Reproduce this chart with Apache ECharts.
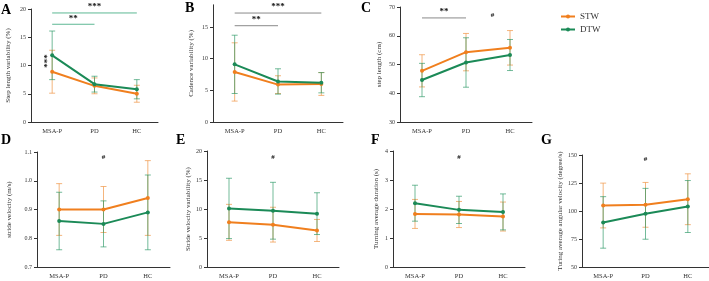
<!DOCTYPE html>
<html><head><meta charset="utf-8">
<script src="https://cdn.jsdelivr.net/npm/echarts@6/dist/echarts.min.js"></script>
<style>html,body{margin:0;padding:0;background:#fff}#c{width:709px;height:281px}</style>
</head><body><div id="c"></div>
<script>
const categories = ['MSA-P', 'PD', 'HC'];
const seriesNames = ['STW', 'DTW'];

// A: Step length variability (%)
const aStwMean = [8.9, 6.4, 5.0];
const aStwSd   = [3.8, 1.4, 1.5];
const aDtwMean = [11.8, 6.7, 5.8];
const aDtwSd   = [4.3, 1.4, 1.7];
const aTicks   = [0, 5, 10, 15, 20];
// B: Cadence variability (%)
const bStwMean = [7.9, 5.9, 6.0];
const bStwSd   = [4.6, 1.4, 1.8];
const bDtwMean = [9.1, 6.4, 6.2];
const bDtwSd   = [4.6, 2.0, 1.6];
const bTicks   = [0, 5, 10, 15];
// C: step length (cm)
const cStwMean = [47.8, 54.3, 55.8];
const cStwSd   = [5.6, 6.5, 6.0];
const cDtwMean = [44.6, 50.7, 53.3];
const cDtwSd   = [5.8, 8.6, 5.4];
const cTicks   = [30, 40, 50, 60, 70];
// D: stride velocity (m/s)
const dStwMean = [0.90, 0.90, 0.94];
const dStwSd   = [0.09, 0.08, 0.13];
const dDtwMean = [0.86, 0.85, 0.89];
const dDtwSd   = [0.10, 0.08, 0.13];
const dTicks   = [0.7, 0.8, 0.9, 1.0, 1.1];
// E: Stride velocity variability (%)
const eStwMean = [7.7, 7.3, 6.3];
const eStwSd   = [3.1, 3.0, 1.9];
const eDtwMean = [10.1, 9.7, 9.2];
const eDtwSd   = [5.2, 4.9, 3.6];
const eTicks   = [0, 5, 10, 15, 20];
// F: Turning average duration (s)
const fStwMean = [1.83, 1.81, 1.74];
const fStwSd   = [0.50, 0.45, 0.50];
const fDtwMean = [2.20, 1.97, 1.90];
const fDtwSd   = [0.62, 0.47, 0.62];
const fTicks   = [0, 1, 2, 3, 4];
// G: Turing average angular velocity (degree/s)
const gStwMean = [104.9, 105.5, 110.5];
const gStwSd   = [20.0, 20.0, 22.7];
const gDtwMean = [89.8, 97.5, 104.0];
const gDtwSd   = [23.0, 22.7, 23.2];
const gTicks   = [50, 75, 100, 125, 150];

// significance brackets: [fromCategory, toCategory, yValue, label]
const aSig = [[0, 2, 19.3, '***'], [0, 1, 17.3, '**']];
const bSig = [[0, 2, 17.2, '***'], [0, 1, 15.2, '**']];
const cSig = [[0, 1, 66.2, '**']];
// text marks: [categoryPosition, yValue, text]
const aMarks = [[-0.1, 10.8, '***']];
const cMarks = [[1.6, 67.3, '#']];
const dMarks = [[1, 1.083, '#']];
const eMarks = [[1, 19.0, '#']];
const fMarks = [[1, 3.8, '#']];
const gMarks = [[1, 146.5, '#']];

const FONT = 'Liberation Serif';
const ORANGE = '#F07F1E', GREEN = '#1B8A57';
const ORANGE_ERR = 'rgba(240,150,70,0.7)', GREEN_ERR = 'rgba(40,150,100,0.65)';

const panels = [
  {letter:'A', name:'Step length variability (%)', stw:[aStwMean,aStwSd], dtw:[aDtwMean,aDtwSd], ticks:aTicks, max:20, sig:aSig, sigColor:'#5DB894', marks:aMarks,
   grid:{left:31, top:9, width:127, height:113}, gap:19, letterPos:[1,3]},
  {letter:'B', name:'Cadence variability (%)', stw:[bStwMean,bStwSd], dtw:[bDtwMean,bDtwSd], ticks:bTicks, max:18.5, sig:bSig, sigColor:'#8a8a8a', marks:[],
   grid:{left:213, top:4.8, width:130, height:117.2}, gap:18, letterPos:[185,1]},
  {letter:'C', name:'step length (cm)', stw:[cStwMean,cStwSd], dtw:[cDtwMean,cDtwSd], ticks:cTicks, max:70, sig:cSig, sigColor:'#8a8a8a', marks:cMarks,
   grid:{left:400, top:7, width:132, height:115}, gap:17, letterPos:[361,1]},
  {letter:'D', name:'stride velocity (m/s)', stw:[dStwMean,dStwSd], dtw:[dDtwMean,dDtwSd], ticks:dTicks, max:1.1, sig:[], marks:dMarks,
   grid:{left:37, top:152, width:133, height:115}, gap:24, letterPos:[1,133]},
  {letter:'E', name:'Stride velocity variability (%)', stw:[eStwMean,eStwSd], dtw:[eDtwMean,eDtwSd], ticks:eTicks, max:20, sig:[], marks:eMarks,
   grid:{left:207, top:151, width:132, height:116}, gap:12, letterPos:[176,133]},
  {letter:'F', name:'Turning average duration (s)', stw:[fStwMean,fStwSd], dtw:[fDtwMean,fDtwSd], ticks:fTicks, max:4, sig:[], marks:fMarks,
   grid:{left:393, top:151, width:132, height:116}, gap:13, letterPos:[371,133]},
  {letter:'G', name:'Turing average angular velocity (degree/s)', stw:[gStwMean,gStwSd], dtw:[gDtwMean,gDtwSd], ticks:gTicks, max:150, sig:[], marks:gMarks,
   grid:{left:582, top:155, width:129, height:112}, gap:12, letterPos:[541,133]}
];

const grids = [], xAxes = [], yAxes = [], series = [], graphics = [];

function errorSeries(gi, color, mean, sd) {
  return {
    type:'custom', xAxisIndex:gi, yAxisIndex:gi, z:1, silent:true,
    data: mean.map((m, i) => [i, m - sd[i], m + sd[i]]),
    encode:{x:0, y:[1,2]},
    renderItem(params, api) {
      const lo = api.coord([api.value(0), api.value(1)]);
      const hi = api.coord([api.value(0), api.value(2)]);
      const w = 3, st = {stroke:color, lineWidth:1};
      return {type:'group', children:[
        {type:'line', shape:{x1:lo[0], y1:lo[1], x2:hi[0], y2:hi[1]}, style:st},
        {type:'line', shape:{x1:lo[0]-w, y1:lo[1], x2:lo[0]+w, y2:lo[1]}, style:st},
        {type:'line', shape:{x1:hi[0]-w, y1:hi[1], x2:hi[0]+w, y2:hi[1]}, style:st}
      ]};
    }
  };
}

panels.forEach((p, gi) => {
  grids.push(Object.assign({containLabel:false}, p.grid));
  xAxes.push({
    type:'category', gridIndex:gi, data:categories, boundaryGap:true,
    axisLine:{lineStyle:{color:'#333', width:1}}, axisTick:{show:false},
    axisLabel:{fontFamily:FONT, fontSize:6.5, color:'#333', margin:6}
  });
  yAxes.push({
    type:'value', gridIndex:gi, min:p.ticks[0], max:p.max,
    splitLine:{show:false},
    axisLine:{show:true, lineStyle:{color:'#333', width:1}},
    axisTick:{show:true, length:3, customValues:p.ticks, lineStyle:{color:'#333'}},
    axisLabel:{fontFamily:FONT, fontSize:6, color:'#333', margin:5, customValues:p.ticks,
      formatter: v => (p.ticks[0] < 1.5 && p.ticks[1] < 1) ? v.toFixed(1) : String(v)},
    name:p.name, nameLocation:'middle', nameGap:p.gap,
    nameTextStyle:{fontFamily:FONT, fontSize:7, color:'#333'}
  });
  series.push(errorSeries(gi, ORANGE_ERR, p.stw[0], p.stw[1]));
  series.push(errorSeries(gi, GREEN_ERR, p.dtw[0], p.dtw[1]));
  [['STW', ORANGE, p.stw[0]], ['DTW', GREEN, p.dtw[0]]].forEach(([nm, col, data]) => {
    series.push({
      type:'line', name:nm, xAxisIndex:gi, yAxisIndex:gi, data:data, z:3,
      symbol:'circle', symbolSize:4, color:col,
      lineStyle:{color:col, width:2}, itemStyle:{color:col}, silent:true
    });
  });
  if (p.sig.length) {
    series.push({
      type:'custom', xAxisIndex:gi, yAxisIndex:gi, z:4, silent:true, clip:false,
      data:p.sig, encode:{x:[0,1], y:2},
      renderItem(params, api) {
        const s = p.sig[params.dataIndex];
        const a = api.coord([s[0], s[2]]), b = api.coord([s[1], s[2]]);
        return {type:'group', children:[
          {type:'line', shape:{x1:a[0], y1:a[1], x2:b[0], y2:b[1]}, style:{stroke:p.sigColor, lineWidth:1}},
          {type:'text', x:(a[0]+b[0])/2, y:a[1]-1.5, style:{text:s[3], fontFamily:FONT, fontWeight:'bold', fontSize:9, fill:'#111', align:'center', verticalAlign:'bottom'}}
        ]};
      }
    });
  }
  if (p.marks.length) {
    series.push({
      type:'custom', xAxisIndex:gi, yAxisIndex:gi, z:4, silent:true, clip:false,
      data:p.marks.map(m => [0, m[1]]), encode:{y:1},
      renderItem(params, api) {
        const m = p.marks[params.dataIndex];
        const p0 = api.coord([0, m[1]]), p1 = api.coord([1, m[1]]);
        const x = p0[0] + m[0] * (p1[0] - p0[0]);
        const isStars = m[2].indexOf('*') >= 0;
        return {type:'text', x:x, y:p0[1], rotation: isStars ? Math.PI/2 : 0,
          style:{text:m[2], fontFamily:FONT, fontWeight:'bold', fontSize: isStars ? 9 : 7, fill:'#111', align:'center', verticalAlign:'middle'}};
      }
    });
  }
  graphics.push({type:'text', left:p.letterPos[0], top:p.letterPos[1],
    style:{text:p.letter, fontFamily:FONT, fontWeight:'bold', fontSize:14, fill:'#000'}});
});

const chart = echarts.init(document.getElementById('c'), null, {renderer:'canvas'});
chart.setOption({
  animation:false,
  backgroundColor:'#fff',
  grid:grids, xAxis:xAxes, yAxis:yAxes, series:series, graphic:graphics,
  legend:{
    data:seriesNames, orient:'vertical', left:555, top:7, itemWidth:14, itemHeight:5, itemGap:4,
    textStyle:{fontFamily:FONT, fontSize:9, color:'#333'}, selectedMode:false
  }
});
</script></body></html>
